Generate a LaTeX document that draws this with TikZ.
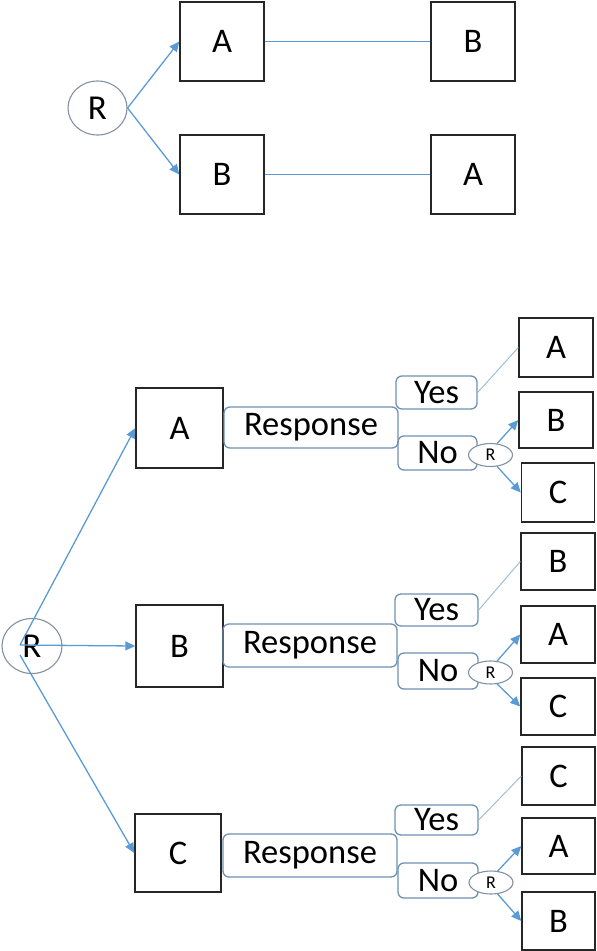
\documentclass[tikz,border=0pt]{standalone}
\usepackage{fontspec}
\setmainfont{Carlito}
\usetikzlibrary{arrows.meta,shapes.geometric}
\definecolor{conn}{RGB}{91,155,213}
\definecolor{yesline}{RGB}{160,190,215}
\definecolor{rbord}{RGB}{110,145,180}
\definecolor{cbord}{RGB}{130,145,160}
\tikzset{
  sq/.style={draw=black!85, line width=1.4pt, inner sep=0pt, font=\fontsize{34.5}{36}\selectfont},
  rr/.style={draw=rbord, line width=1.3pt, rounded corners=6pt, inner sep=0pt, font=\fontsize{34.5}{36}\selectfont},
  bigR/.style={draw=cbord, line width=1.1pt, ellipse, inner sep=0pt, font=\fontsize{35}{36}\selectfont},
  smR/.style={draw=cbord, line width=1.1pt, ellipse, inner sep=0pt, minimum width=44pt, minimum height=23pt, font=\fontsize{18}{19}\selectfont},
  arr/.style={draw=conn, line width=1.3pt, -{Triangle[length=10pt,width=9pt]}},
  ln/.style={draw=conn, line width=1.3pt},
  yl/.style={draw=yesline, line width=1pt}
}
\begin{document}
\begin{tikzpicture}[x=1pt,y=-1pt]
\useasboundingbox (0,0) rectangle (597,951);
% ---- top diagram ----
\node[bigR, minimum width=59pt, minimum height=54pt] (tR) at (97.5,108) {R};
\node[sq, minimum width=84pt, minimum height=79pt] (tA1) at (222,41.5) {A};
\node[sq, minimum width=84pt, minimum height=79pt] (tB1) at (473,41.5) {B};
\node[sq, minimum width=84pt, minimum height=79pt] (tB2) at (222,174.5) {B};
\node[sq, minimum width=84pt, minimum height=79pt] (tA2) at (473,174.5) {A};
\draw[arr] (tR.east) -- (tA1.west);
\draw[arr] (tR.east) -- (tB2.west);
\draw[ln] (tA1.east) -- (tB1.west);
\draw[ln] (tB2.east) -- (tA2.west);
% ---- bottom diagram ----
\node[bigR, minimum width=60pt, minimum height=55pt] (bR) at (32,646) {R};
\coordinate (o1) at (20,645);
\coordinate (o2) at (20,655);
\node[sq, minimum width=87pt, minimum height=80pt] (mA) at (179.5,428) {A};
\node[sq, minimum width=87pt, minimum height=82pt] (mB) at (179.5,646) {B};
\node[sq, minimum width=86pt, minimum height=78pt] (mC) at (178,853) {C};
\draw[arr] (o1) -- (mA.west);
\draw[arr] (o1) -- (mB.west);
\draw[arr] (o2) -- (mC.west);
% branch A
\node[rr, minimum width=174pt, minimum height=41pt] (r1) at (311,427.5) {Response};
\node[rr, minimum width=81pt, minimum height=33pt] (y1) at (436.5,392.5) {Yes};
\node[rr, minimum width=79pt, minimum height=34pt] (n1) at (437.5,453) {No};
\node[smR, fill=white] (s1) at (490.5,455) {R};
\node[sq, minimum width=74pt, minimum height=59pt] (a1) at (556,347.5) {A};
\node[sq, minimum width=74pt, minimum height=56pt] (a2) at (556,420) {B};
\node[sq, minimum width=73pt, minimum height=59pt] (a3) at (558,492.5) {C};
\draw[yl] (y1.east) -- (a1.west);
\draw[arr] (s1.60) -- (a2.west);
\draw[arr] (s1.-60) -- (a3.west);
% branch B
\node[rr, minimum width=174pt, minimum height=43pt] (r2) at (310,645.5) {Response};
\node[rr, minimum width=83pt, minimum height=32pt] (y2) at (436.5,610) {Yes};
\node[rr, minimum width=80pt, minimum height=36pt] (n2) at (438,671) {No};
\node[smR, fill=white] (s2) at (490.5,672.5) {R};
\node[sq, minimum width=74pt, minimum height=57pt] (b1) at (558,561.5) {B};
\node[sq, minimum width=74pt, minimum height=57pt] (b2) at (558,634.5) {A};
\node[sq, minimum width=74pt, minimum height=57pt] (b3) at (558,706.5) {C};
\draw[yl] (y2.east) -- (b1.west);
\draw[arr] (s2.60) -- (b2.west);
\draw[arr] (s2.-60) -- (b3.west);
% branch C
\node[rr, minimum width=174pt, minimum height=43pt] (r3) at (310,855.5) {Response};
\node[rr, minimum width=83pt, minimum height=30pt] (y3) at (436.5,820) {Yes};
\node[rr, minimum width=80pt, minimum height=35pt] (n3) at (438,880.5) {No};
\node[smR, fill=white] (s3) at (491,882.5) {R};
\node[sq, minimum width=73pt, minimum height=58pt] (c1) at (558.5,776) {C};
\node[sq, minimum width=73pt, minimum height=56pt] (c2) at (558.5,846) {A};
\node[sq, minimum width=73pt, minimum height=58pt] (c3) at (558.5,921) {B};
\draw[yl] (y3.east) -- (c1.west);
\draw[arr] (s3.60) -- (c2.west);
\draw[arr] (s3.-60) -- (c3.west);
\end{tikzpicture}
\end{document}
